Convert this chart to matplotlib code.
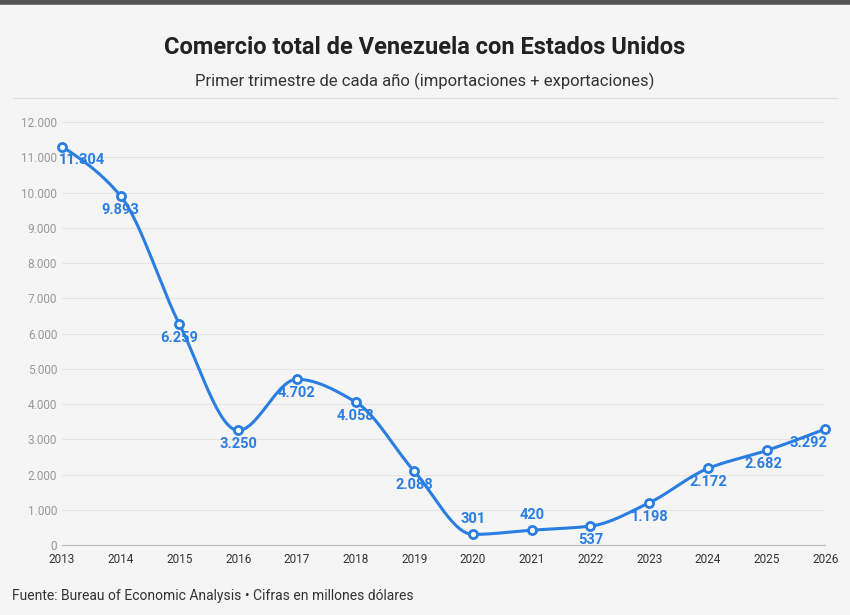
import numpy as np
import matplotlib
matplotlib.use("Agg")
import matplotlib.pyplot as plt
from matplotlib.ticker import FuncFormatter

years = [2013,2014,2015,2016,2017,2018,2019,2020,2021,2022,2023,2024,2025,2026]
values = [11304,9893,6259,3250,4702,4058,2088,301,420,537,1198,2172,2682,3292]
labels = ["11.304","9.893","6.259","3.250","4.702","4.058","2.088","301","420","537","1.198","2.172","2.682","3.292"]

def monotone(x, y, n=30):
    x = np.asarray(x, float); y = np.asarray(y, float)
    h = np.diff(x); d = np.diff(y) / h
    m = np.zeros_like(y)
    for i in range(1, len(y) - 1):
        if d[i-1] * d[i] <= 0:
            m[i] = 0
        else:
            m[i] = 3*(h[i-1]+h[i]) / ((2*h[i]+h[i-1])/d[i-1] + (h[i]+2*h[i-1])/d[i])
    m[0] = (3*d[0] - m[1]) / 2
    m[-1] = (3*d[-1] - m[-2]) / 2
    xs, ys = [], []
    for i in range(len(h)):
        t = np.linspace(0, 1, n, endpoint=False)
        h00 = 2*t**3 - 3*t**2 + 1; h10 = t**3 - 2*t**2 + t
        h01 = -2*t**3 + 3*t**2; h11 = t**3 - t**2
        xs.append(x[i] + t*h[i])
        ys.append(h00*y[i] + h10*h[i]*m[i] + h01*y[i+1] + h11*h[i]*m[i+1])
    xs.append([x[-1]]); ys.append([y[-1]])
    return np.concatenate(xs), np.concatenate(ys)

blue = "#2a7de1"
bg = "#f5f5f5"
plt.rcParams['font.family'] = ['Roboto', 'DejaVu Sans']
fig = plt.figure(figsize=(8.5, 6.15), dpi=100, facecolor=bg)
ax = fig.add_axes([0.073, 0.1138, 0.898, 0.6878], facecolor=bg)

sx, sy = monotone(years, values)
ax.plot(sx, sy, color=blue, lw=2.2, zorder=3, clip_on=False)
ax.scatter(years, values, s=34, facecolor="white", edgecolor=blue, linewidth=2, zorder=4, clip_on=False)

offsets = {2013:(14,-10),2020:(0,11),2021:(0,11),2024:(0,-10),2025:(-2,-10),2026:(-12,-10)}
for x, v, l in zip(years, values, labels):
    dx, dy = offsets.get(x, (0, -10))
    ax.annotate(l, (x, v), xytext=(dx, dy), textcoords="offset points", ha="center", va="center",
                color=blue, fontsize=10.5, fontweight="bold", zorder=5)

ax.set_xlim(2013, 2026)
ax.set_ylim(0, 12000)
ax.set_xticks(years)
ax.set_yticks(range(0, 12001, 1000))
ax.yaxis.set_major_formatter(FuncFormatter(lambda v, p: f"{int(v):,}".replace(",", ".")))
ax.tick_params(axis="both", length=0, labelsize=8.5, colors="#333333")
ax.tick_params(axis="y", colors="#999999", labelcolor="#999999")
ax.tick_params(axis="x", pad=6)
ax.grid(axis="y", color="#e4e4e4", lw=0.8)
for s in ["top", "right", "left"]:
    ax.spines[s].set_visible(False)
ax.spines["bottom"].set_color("#bbbbbb")

fig.add_artist(plt.Line2D([0, 1], [0.997, 0.997], color="#555555", lw=4))
fig.text(0.5, 0.923, "Comercio total de Venezuela con Estados Unidos", ha="center", va="center",
         fontsize=17, fontweight="bold", color="#222222")
fig.text(0.5, 0.868, "Primer trimestre de cada año (importaciones + exportaciones)", ha="center", va="center",
         fontsize=12, color="#333333")
fig.add_artist(plt.Line2D([0.015, 0.985], [0.841, 0.841], color="#dddddd", lw=0.8))
fig.text(0.014, 0.031, "Fuente: Bureau of Economic Analysis • Cifras en millones dólares", ha="left", va="center",
         fontsize=10, color="#333333")

fig.savefig("out.png", dpi=100, facecolor=bg)
